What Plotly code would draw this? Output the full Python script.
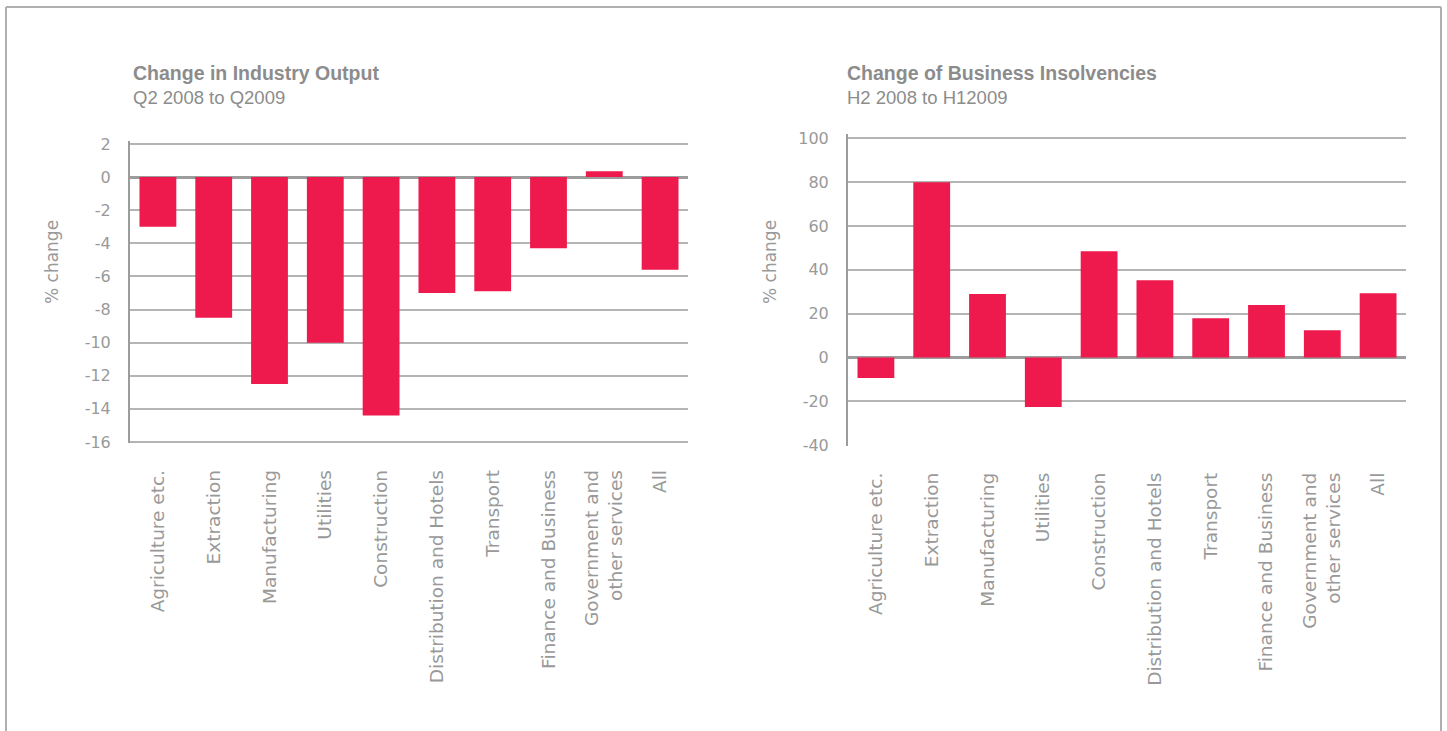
import plotly.graph_objects as go
from plotly.subplots import make_subplots

# Sectors shown on both panels
sectors = [
    "Agriculture etc.", "Extraction", "Manufacturing", "Utilities", "Construction",
    "Distribution and Hotels", "Transport", "Finance and Business",
    "Government and<br>other services", "All",
]

# % change in industry output, Q2 2008 to Q2 2009
output_change = [-3.0, -8.5, -12.5, -10.0, -14.4, -7.0, -6.9, -4.3, 0.35, -5.6]

# % change in business insolvencies, H2 2008 to H1 2009
insolvency_change = [-9.3, 80.0, 29.0, -22.5, 48.5, 35.3, 18.0, 24.0, 12.5, 29.4]

output_ticks = list(range(-16, 3, 2))
insolvency_ticks = list(range(-40, 101, 20))

W, H = 1447, 731
BAR = "#EE1A4D"
GRID = "#b4b4b4"
AXIS = "#9c9c9c"
TXT = "#999999"
TITLE = "#8c8c8c"
TICK_FONT = dict(family="DejaVu Sans", size=16, color=TXT)
XTICK_FONT = dict(family="DejaVu Sans", size=18.5, color=TXT)


def px_x(x):
    return x / W


def px_y(y):
    return 1 - y / H


fig = make_subplots(rows=1, cols=2)

fig.add_trace(go.Bar(x=sectors, y=output_change, marker_color=BAR,
                     marker_line_width=0, hoverinfo="x+y"), row=1, col=1)
fig.add_trace(go.Bar(x=sectors, y=insolvency_change, marker_color=BAR,
                     marker_line_width=0, hoverinfo="x+y"), row=1, col=2)

common_x = dict(showgrid=False, showline=False, zeroline=False, ticks="",
                tickangle=-90, tickfont=XTICK_FONT, ticklabelstandoff=22,
                automargin=False, fixedrange=True)
common_y = dict(showgrid=True, gridcolor=GRID, gridwidth=1.5,
                showline=True, linecolor=AXIS, linewidth=2,
                zeroline=True, zerolinecolor=AXIS, zerolinewidth=2.5,
                ticks="", tickfont=TICK_FONT, ticklabelstandoff=14,
                automargin=False, fixedrange=True)

fig.update_xaxes(**common_x)
fig.update_yaxes(**common_y)

# Ranges padded a touch so the end gridlines stay inside the plot area
fig.update_layout(
    width=W, height=H,
    margin=dict(l=0, r=0, t=0, b=0),
    paper_bgcolor="white", plot_bgcolor="white",
    showlegend=False, bargap=0.34,
    font=dict(family="Liberation Sans", color=TXT),
    xaxis=dict(domain=[px_x(130), px_x(688)]),
    xaxis2=dict(domain=[px_x(848), px_x(1406)]),
    yaxis=dict(domain=[px_y(443.3), px_y(140.7)], range=[-16.08, 2.2],
               tickvals=output_ticks, ticktext=[str(v) for v in output_ticks]),
    yaxis2=dict(domain=[px_y(446), px_y(133.9)], range=[-40.3, 102],
                tickvals=insolvency_ticks, ticktext=[str(v) for v in insolvency_ticks]),
)

# Panel titles and subtitles
titles = [
    (133, "Change in Industry Output", "Q2 2008 to Q2009"),
    (847, "Change of Business Insolvencies", "H2 2008 to H12009"),
]
for x0, title, sub in titles:
    fig.add_annotation(x=px_x(x0 - 2), y=px_y(73), xref="paper", yref="paper",
                       xanchor="left", yanchor="middle", showarrow=False,
                       text="<b>" + title + "</b>",
                       font=dict(family="Liberation Sans", size=19.5, color=TITLE))
    fig.add_annotation(x=px_x(x0 - 2), y=px_y(98), xref="paper", yref="paper",
                       xanchor="left", yanchor="middle", showarrow=False,
                       text=sub,
                       font=dict(family="Liberation Sans", size=18.5, color=TITLE))

# Vertical axis titles
for xc in (52, 770):
    fig.add_annotation(x=px_x(xc), y=px_y(262), xref="paper", yref="paper",
                       xanchor="center", yanchor="middle", showarrow=False,
                       text="% change", textangle=-90,
                       font=dict(family="DejaVu Sans", size=17, color=TXT))

# Outer frame (open at the bottom)
frame = dict(type="line", xref="paper", yref="paper",
             line=dict(color="#b0b0b0", width=2))
fig.add_shape(x0=px_x(6), x1=px_x(6), y0=-0.05, y1=px_y(7), **frame)
fig.add_shape(x0=px_x(6), x1=px_x(1441), y0=px_y(7), y1=px_y(7), **frame)
fig.add_shape(x0=px_x(1441), x1=px_x(1441), y0=-0.05, y1=px_y(7), **frame)

fig.write_html("out.html")
